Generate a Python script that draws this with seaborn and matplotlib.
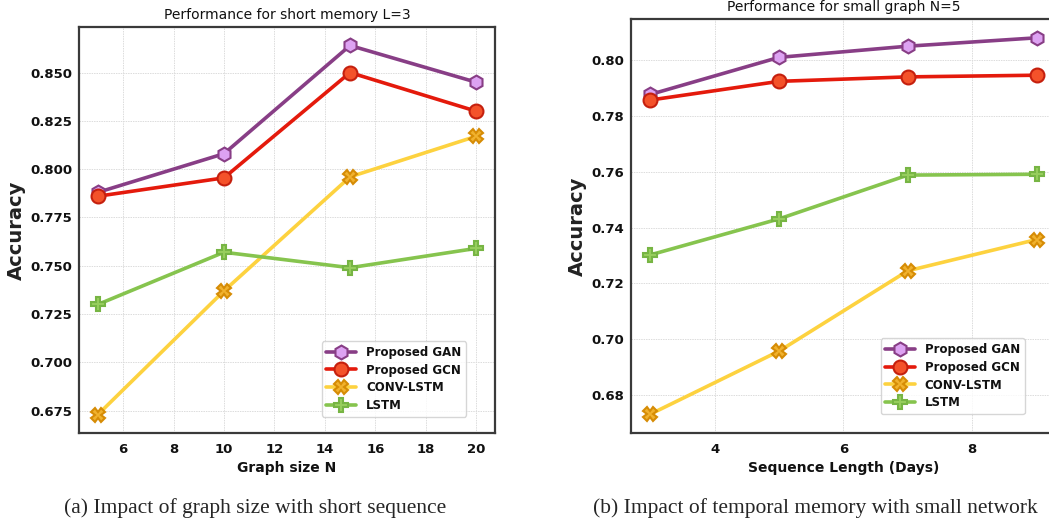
import matplotlib
matplotlib.use("Agg")
import matplotlib.pyplot as plt
import seaborn as sns
import pandas as pd

# Models compared
models = ["Proposed GAN", "Proposed GCN", "CONV-LSTM", "LSTM"]

# (a) accuracy vs graph size, short memory L=3
graph_sizes = [5, 10, 15, 20]
acc_gan_a = [0.788, 0.808, 0.864, 0.845]
acc_gcn_a = [0.786, 0.7955, 0.850, 0.830]
acc_conv_a = [0.673, 0.737, 0.796, 0.817]
acc_lstm_a = [0.730, 0.757, 0.749, 0.759]

# (b) accuracy vs sequence length, small graph N=5
seq_lengths = [3, 5, 7, 9]
acc_gan_b = [0.7877, 0.801, 0.805, 0.808]
acc_gcn_b = [0.7857, 0.7924, 0.7940, 0.7946]
acc_conv_b = [0.6731, 0.6957, 0.7245, 0.7357]
acc_lstm_b = [0.7302, 0.7431, 0.7588, 0.7591]

xticks_a = [6, 8, 10, 12, 14, 16, 18, 20]
yticks_a = [0.675, 0.700, 0.725, 0.750, 0.775, 0.800, 0.825, 0.850]
xticks_b = [4, 6, 8]
yticks_b = [0.68, 0.70, 0.72, 0.74, 0.76, 0.78, 0.80]

styles = {
    "Proposed GAN": dict(color="#883E86", marker="h", mfc="#DDA2F2", mec="#883E86", ms=10),
    "Proposed GCN": dict(color="#E41A0C", marker="o", mfc="#F4522A", mec="#C5200E", ms=10),
    "CONV-LSTM": dict(color="#FDD23F", marker="X", mfc="#F1B22E", mec="#D68C05", ms=10),
    "LSTM": dict(color="#86C44E", marker="P", mfc="#98CF5E", mec="#77B544", ms=10),
}

sns.set_theme(style="whitegrid")
plt.rcParams["font.family"] = ["DejaVu Sans"]

fig = plt.figure(figsize=(10.49, 5.25), dpi=100)
ax_a = fig.add_axes([0.0753, 0.1752, 0.3966, 0.7733])
ax_b = fig.add_axes([0.6015, 0.1752, 0.4050, 0.7886])


def draw(ax, x, series, title, xlabel, xticks, yticks, yfmt, anchor):
    df = pd.DataFrame({"x": x * len(models),
                       "acc": sum(series, []),
                       "model": sum([[m] * len(x) for m in models], [])})
    for m in models:
        st = styles[m]
        sns.lineplot(data=df[df["model"] == m], x="x", y="acc", ax=ax,
                     color=st["color"], marker=st["marker"],
                     markerfacecolor=st["mfc"], markeredgecolor=st["mec"],
                     markersize=st["ms"], markeredgewidth=1.5,
                     linewidth=2.6, label=m)
    ax.set_title(title, fontsize=10, pad=6, color="#111111")
    ax.set_xlabel(xlabel, fontsize=10, fontweight="bold", labelpad=4, color="#111111")
    ax.set_ylabel("Accuracy", fontsize=14, fontweight="bold", labelpad=3, color="#222222")
    ax.set_xticks(xticks)
    ax.set_yticks(yticks)
    ax.set_yticklabels([yfmt.format(v) for v in yticks])
    for lab in ax.get_xticklabels() + ax.get_yticklabels():
        lab.set_fontweight("bold")
        lab.set_fontsize(9.5)
        lab.set_color("#111111")
    ax.tick_params(axis="x", length=4, width=1.2, color="#333333", pad=3)
    ax.tick_params(axis="y", length=0, pad=5)
    ax.grid(True, color="#dcdcdc", linestyle=(0, (1.5, 1)), linewidth=0.7)
    for sp in ax.spines.values():
        sp.set_color("#3a3a3a")
        sp.set_linewidth(1.6)
    ax.set_facecolor("white")
    leg = ax.legend(loc="lower right", bbox_to_anchor=anchor, frameon=True,
                    prop={"weight": "bold", "size": 8.5}, handlelength=2.5,
                    borderpad=0.4, labelspacing=0.4, handletextpad=0.85,
                    borderaxespad=0.0)
    leg.get_frame().set_edgecolor("#cccccc")
    leg.get_frame().set_linewidth(1.0)
    for t in leg.get_texts():
        t.set_color("#111111")


draw(ax_a, graph_sizes, [acc_gan_a, acc_gcn_a, acc_conv_a, acc_lstm_a],
     "Performance for short memory L=3", "Graph size N",
     xticks_a, yticks_a, "{:.3f}", (0.93, 0.04))
draw(ax_b, seq_lengths, [acc_gan_b, acc_gcn_b, acc_conv_b, acc_lstm_b],
     "Performance for small graph N=5", "Sequence Length (Days)",
     xticks_b, yticks_b, "{:.2f}", (0.927, 0.046))

fig.text(0.243, 0.032, "(a) Impact of graph size with short sequence",
         fontsize=15.5, family="Liberation Serif", ha="center", va="center")
fig.text(0.777, 0.032, "(b) Impact of temporal memory with small network",
         fontsize=15.5, family="Liberation Serif", ha="center", va="center")

fig.savefig("out.png", dpi=100, facecolor="white")
